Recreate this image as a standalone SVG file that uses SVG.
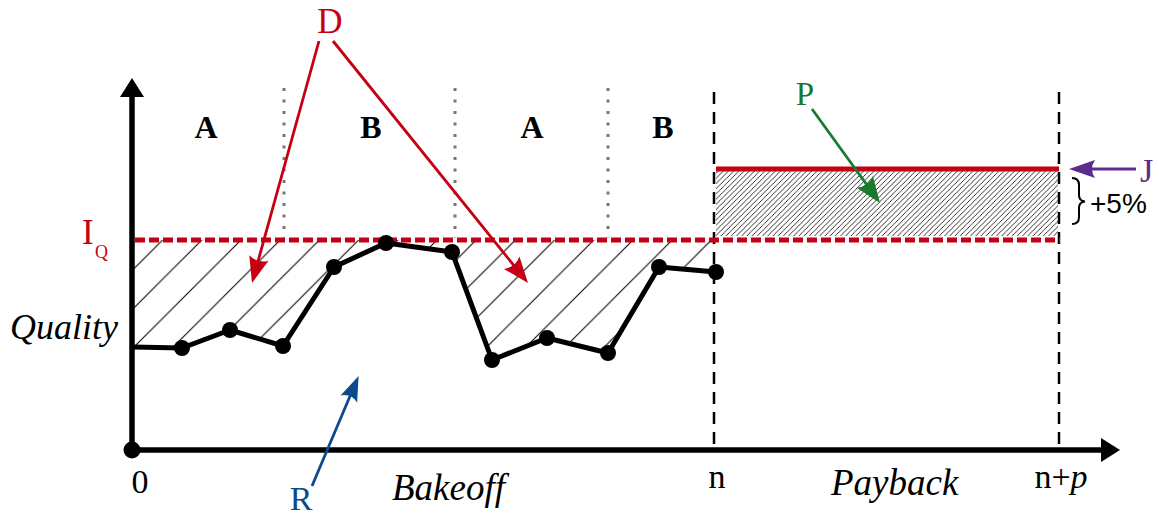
<svg xmlns="http://www.w3.org/2000/svg" width="1159" height="517" viewBox="0 0 1159 517">
<style>
.serif{font-family:"Liberation Serif","Times New Roman",serif}
.it{font-style:italic}
.ab{font-family:"Liberation Serif",serif;font-weight:bold;font-size:32px;fill:#000;text-anchor:middle}
.sep{stroke:#777;stroke-width:3;stroke-dasharray:3 8.5;fill:none}
.vdash{stroke:#000;stroke-width:2.5;stroke-dasharray:12 8;fill:none}
.dot{fill:#000}
</style>
<defs>
<pattern id="hatchWide" patternUnits="userSpaceOnUse" width="39.2" height="39.2" patternTransform="translate(10.6,0)">
<path d="M-5,44.2 L44.2,-5" stroke="#000" stroke-width="1"/>
<path d="M-5,5 L5,-5 M34.2,44.2 L44.2,34.2" stroke="#000" stroke-width="1"/>
</pattern>
<pattern id="hatchFine" patternUnits="userSpaceOnUse" width="5.2" height="5.2">
<path d="M-1,6.2 L6.2,-1 M-1,1 L1,-1 M4.2,6.2 L6.2,4.2" stroke="#000" stroke-width="0.8"/>
</pattern>
<marker id="mRed" markerUnits="userSpaceOnUse" viewBox="-2 -12 30 24" markerWidth="30" markerHeight="24" refX="5" refY="0" orient="auto">
<path d="M0,-10 L26,0 L0,10 Q6,0 0,-10 Z" fill="#c40012"/>
</marker>
<marker id="mGreen" markerUnits="userSpaceOnUse" viewBox="-2 -12 30 24" markerWidth="30" markerHeight="24" refX="5" refY="0" orient="auto">
<path d="M0,-10 L26,0 L0,10 Q6,0 0,-10 Z" fill="#177a2c"/>
</marker>
<marker id="mBlue" markerUnits="userSpaceOnUse" viewBox="-2 -12 30 24" markerWidth="30" markerHeight="24" refX="5" refY="0" orient="auto">
<path d="M0,-9 L25,0 L0,9 Q6,0 0,-9 Z" fill="#0b4a8c"/>
</marker>
<marker id="mPurple" markerUnits="userSpaceOnUse" viewBox="-2 -12 30 24" markerWidth="30" markerHeight="24" refX="5" refY="0" orient="auto">
<path d="M0,-9 L26,0 L0,9 Q6,0 0,-9 Z" fill="#5c2d8f"/>
</marker>
</defs>
<rect width="1159" height="517" fill="#fff"/>

<g id="regions">
<polygon id="deficit-area" points="133,240 133,347 182,348 230,330 283,346 334,267 386,243 452,252 492,360 547,338 608,353 659,267 716,272 716,240" fill="url(#hatchWide)"/>
<rect id="payback-area" x="716" y="171" width="342" height="65" fill="url(#hatchFine)"/>
</g>

<g id="separators">
<line class="sep" x1="284" y1="88" x2="284" y2="238"/>
<line class="sep" x1="455" y1="88" x2="455" y2="238"/>
<line class="sep" x1="608" y1="88" x2="608" y2="238"/>
<line class="vdash" x1="714" y1="92" x2="714" y2="450"/>
<line class="vdash" x1="1059" y1="92" x2="1059" y2="450"/>
</g>

<g id="phase-labels">
<text class="ab" x="206" y="138">A</text>
<text class="ab" x="371" y="138">B</text>
<text class="ab" x="532" y="138">A</text>
<text class="ab" x="663" y="138">B</text>
</g>

<g id="iq-line">
<line x1="135" y1="240" x2="1060" y2="240" stroke="#c40012" stroke-width="5" stroke-dasharray="10 4"/>
<text class="serif" x="82" y="244" font-size="35" fill="#c40012">I</text>
<text class="serif" x="95" y="258" font-size="18" fill="#c40012">Q</text>
</g>

<g id="target-line">
<line x1="716" y1="169" x2="1059" y2="169" stroke="#c40012" stroke-width="5"/>
</g>

<g id="quality-curve">
<polyline points="133,347 182,348 230,330 283,346 334,267 386,243 452,252 492,360 547,338 608,353 659,267 716,272" fill="none" stroke="#000" stroke-width="5" stroke-linejoin="round"/>
<circle class="dot" cx="182" cy="348" r="8"/>
<circle class="dot" cx="230" cy="330" r="8"/>
<circle class="dot" cx="283" cy="346" r="8"/>
<circle class="dot" cx="334" cy="267" r="8"/>
<circle class="dot" cx="386" cy="243" r="8"/>
<circle class="dot" cx="452" cy="252" r="8"/>
<circle class="dot" cx="492" cy="360" r="8"/>
<circle class="dot" cx="547" cy="338" r="8"/>
<circle class="dot" cx="608" cy="353" r="8"/>
<circle class="dot" cx="659" cy="267" r="8"/>
<circle class="dot" cx="716" cy="272" r="8"/>
</g>

<g id="axes">
<line x1="132" y1="450" x2="132" y2="95" stroke="#000" stroke-width="5.5"/>
<polygon points="132,78 120,97 144,97" fill="#000"/>
<line x1="132" y1="450" x2="1103" y2="450" stroke="#000" stroke-width="5.5"/>
<polygon points="1120,450 1101,438 1101,462" fill="#000"/>
<circle cx="132" cy="450" r="8.5" fill="#000"/>
<text class="serif it" x="10" y="339" font-size="36" fill="#000">Quality</text>
<text class="serif" x="140" y="493" font-size="34" fill="#000" text-anchor="middle">0</text>
<text class="serif" x="717" y="488" font-size="34" fill="#000" text-anchor="middle">n</text>
<text class="serif" x="1061" y="488" font-size="34" fill="#000" text-anchor="middle">n+<tspan font-style="italic">p</tspan></text>
<text class="serif it" x="392" y="500" font-size="37" fill="#000">Bakeoff</text>
<text class="serif it" x="831" y="495" font-size="37" fill="#000">Payback</text>
</g>

<g id="connectors">
<line x1="319" y1="41" x2="257.6" y2="262.8" stroke="#c40012" stroke-width="2.8" marker-end="url(#mRed)"/>
<line x1="333" y1="41" x2="514.8" y2="266.6" stroke="#c40012" stroke-width="2.8" marker-end="url(#mRed)"/>
<line x1="812" y1="109" x2="867.7" y2="186" stroke="#177a2c" stroke-width="2.8" marker-end="url(#mGreen)"/>
<line x1="312" y1="486" x2="350.8" y2="394.3" stroke="#0b4a8c" stroke-width="2.8" marker-end="url(#mBlue)"/>
<line x1="1136" y1="169" x2="1090" y2="169" stroke="#5c2d8f" stroke-width="3" marker-end="url(#mPurple)"/>
</g>

<g id="label-D"><text class="serif" x="330" y="33" font-size="35" fill="#c40012" text-anchor="middle">D</text></g>
<g id="label-P"><text class="serif" x="805" y="105" font-size="33" fill="#177a2c" text-anchor="middle">P</text></g>
<g id="label-R"><text class="serif" x="301" y="510" font-size="34" fill="#0b4a8c" text-anchor="middle">R</text></g>
<g id="label-J"><text class="serif" x="1140" y="182" font-size="34" fill="#5c2d8f">J</text></g>

<g id="margin">
<path d="M1072,178 Q1079,178 1079,185 L1079,195 Q1079,201 1085,201.5 Q1079,202 1079,208 L1079,217 Q1079,224 1072,224" fill="none" stroke="#000" stroke-width="2"/>
<text x="1090" y="213" font-family="Liberation Sans, Arial, sans-serif" font-size="28" fill="#000">+5%</text>
</g>
</svg>
